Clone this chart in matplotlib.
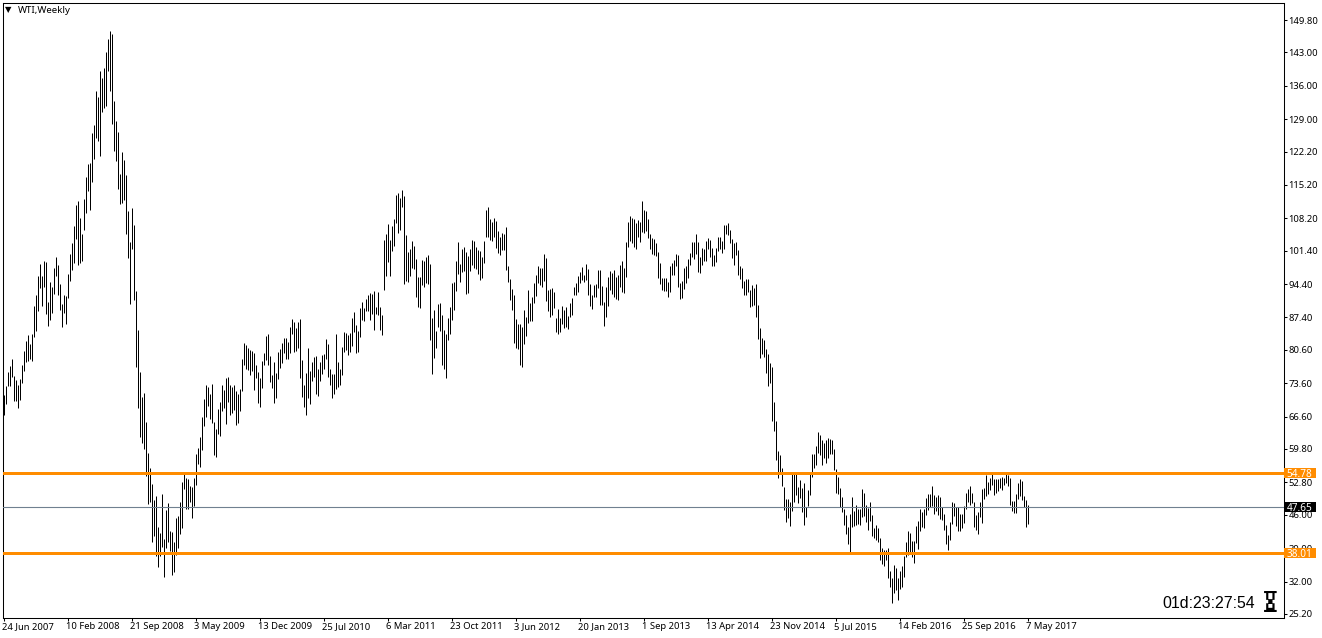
import matplotlib
matplotlib.use("Agg")
import matplotlib.pyplot as plt
from matplotlib import font_manager as fm
from matplotlib.ft2font import FT2Font
from matplotlib.patches import Rectangle, Polygon
from matplotlib.transforms import ScaledTranslation

SERIES = "WTI,Weekly"
highs = [71.1,73.0,76.0,77.2,78.7,75.1,74.3,73.2,74.5,77.4,80.4,82.5,83.7,81.8,83.9,89.8,92.1,96.1,98.6,96.1,99.3,99.1,90.7,94.9,93.8,97.8,100.1,98.4,94.4,90.2,92.1,91.9,
96.5,100.7,103.0,106.6,111.0,111.9,108.3,104.9,112.3,116.9,119.6,119.8,126.1,127.8,135.0,133.7,139.2,137.7,139.8,143.0,145.9,147.4,146.9,132.9,128.7,126.4,117.5,122.2,120.5,117.3,109.8,103.2,
110.4,106.8,93.0,84.8,76.0,70.7,71.5,65.4,59.0,55.8,52.4,49.1,49.9,43.4,42.1,50.3,40.9,47.0,48.4,42.6,42.4,40.3,45.3,45.7,48.6,52.8,54.8,53.7,53.5,52.0,51.8,53.7,
58.7,60.0,62.3,66.5,70.3,73.2,72.8,71.3,73.4,65.4,64.0,68.2,69.7,73.2,72.2,74.7,74.9,73.2,72.8,73.2,72.0,71.3,72.4,78.7,82.0,81.6,81.0,80.6,80.4,80.0,77.4,76.0,74.7,
78.3,80.0,83.5,83.9,79.3,75.3,78.1,75.8,80.2,80.8,82.0,83.1,83.1,82.2,85.4,87.1,86.4,85.2,86.4,87.1,78.5,73.2,75.8,81.0,76.2,78.1,79.1,79.3,76.6,78.1,79.5,79.7,82.9,
81.8,76.6,75.5,75.5,83.9,78.1,76.6,81.2,84.4,84.1,83.7,84.1,87.3,88.5,85.8,84.6,89.4,90.7,89.4,91.3,92.1,92.5,92.3,93.0,89.6,92.8,89.6,87.9,103.7,104.9,107.0,103.7,106.6,108.1,
113.1,113.5,112.5,114.2,112.9,104.7,101.2,101.8,103.5,102.4,99.7,95.9,95.9,99.5,99.3,100.1,100.5,98.6,87.3,89.0,84.6,90.2,90.4,87.9,84.8,83.9,87.3,89.6,94.6,94.9,99.3,103.2,98.6,101.8,102.2,101.2,100.3,
101.8,103.7,103.5,102.2,101.6,101.4,100.1,103.5,110.0,110.6,108.1,107.5,108.3,107.7,105.6,104.3,105.1,104.9,106.4,98.2,95.5,93.4,92.1,87.1,86.0,86.0,85.4,89.0,87.5,93.2,90.4,91.7,94.6,96.3,98.2,97.8,97.8,100.7,
99.9,93.2,93.4,93.6,92.8,87.3,89.2,87.3,89.8,89.0,89.6,87.7,90.4,91.5,93.8,94.6,96.1,97.0,98.0,96.3,98.6,97.6,94.4,92.1,94.2,94.4,97.4,97.4,94.0,90.7,93.8,95.9,97.2,96.7,97.4,95.9,96.3,98.4,99.3,97.8,103.2,107.5,
108.7,108.3,108.1,107.2,107.9,107.5,111.9,110.0,109.8,108.1,105.0,104.1,103.9,103.0,101.2,98.8,95.7,95.7,95.7,94.9,98.2,98.8,99.5,100.7,100.5,94.6,95.1,97.8,98.2,99.7,100.9,103.2,103.2,104.9,103.2,100.1,102.0,101.8,103.5,104.1,
103.7,102.0,100.5,102.0,104.3,104.3,103.5,106.8,106.8,107.2,105.8,103.9,103.0,103.2,101.6,98.2,97.8,95.1,95.5,95.5,93.2,94.2,93.6,94.4,90.0,85.2,83.1,82.7,80.8,79.7,77.8,77.0,69.7,65.7,59.4,58.5,55.8,51.8,49.3,49.3,48.6,54.8,54.8,55.0,51.8,53.3,51.6,52.6,47.6,51.2,55.0,58.7,
58.7,60.4,63.4,62.7,61.7,61.0,61.7,62.1,61.9,61.7,59.8,55.6,53.9,51.6,49.7,47.2,45.9,43.4,46.1,49.7,46.8,48.0,47.2,47.2,51.4,50.6,48.0,47.4,48.6,45.9,43.2,43.8,43.2,41.1,39.0,38.6,38.6,39.0,34.2,32.7,35.4,34.8,32.7,34.2,35.2,37.3,40.3,42.6,42.1,40.5,40.5,43.6,44.7,47.2,46.6,47.2,
49.5,50.3,50.3,52.0,50.1,49.7,50.1,49.7,47.6,46.1,43.8,41.7,44.5,48.6,48.4,47.6,47.6,46.1,46.1,47.8,50.6,51.4,52.0,50.6,48.6,45.9,46.6,48.6,51.4,51.6,54.3,52.8,53.7,54.8,53.5,53.5,53.5,53.7,53.9,53.7,54.5,54.3,53.7,48.9,48.9,50.3,52.6,53.5,53.1,49.9,49.1,48.0]
lows = [66.9,69.2,73.0,73.0,74.9,69.9,69.9,68.4,70.1,73.6,76.2,78.1,78.3,78.7,78.3,83.3,84.6,88.8,93.6,89.8,93.8,88.1,85.6,86.9,88.3,92.3,96.1,92.1,89.0,85.4,88.3,86.0,
91.5,95.1,97.4,98.8,103.9,98.4,98.8,99.3,105.8,109.3,114.0,110.0,115.8,120.7,125.1,124.5,121.3,130.5,131.4,131.8,139.0,135.0,128.0,122.4,120.3,114.4,111.2,111.4,112.1,104.9,99.9,90.2,
101.8,91.1,77.0,68.4,62.3,61.0,59.8,54.1,48.2,48.6,40.3,41.5,37.3,35.0,37.3,39.2,32.9,39.0,40.3,38.4,33.3,34.0,37.5,39.0,41.9,43.2,51.4,47.2,47.2,48.6,45.3,47.8,
52.2,56.6,56.0,59.6,64.6,66.5,68.8,66.1,65.2,58.5,58.1,63.0,62.5,67.8,68.4,65.0,69.7,66.9,67.3,68.0,64.8,65.2,67.8,72.0,77.4,76.6,76.4,75.3,76.2,72.2,74.7,69.4,68.6,
72.6,77.4,78.5,77.4,73.9,72.6,69.4,70.5,74.5,76.8,77.8,80.0,78.7,78.7,80.0,83.9,80.2,80.4,81.0,74.7,70.7,68.6,66.9,70.5,69.2,74.1,74.9,71.3,70.9,74.1,75.5,76.6,78.7,
74.9,73.2,70.5,71.3,72.4,72.8,73.2,75.3,80.2,80.6,79.5,80.2,81.4,84.4,80.0,80.2,83.3,86.9,86.7,88.8,88.8,86.9,88.1,84.8,88.1,87.9,84.8,83.7,93.2,96.1,99.1,96.1,101.4,102.4,
107.2,105.1,105.8,110.6,94.4,95.1,94.9,96.1,97.8,97.6,91.7,89.6,89.4,94.2,93.8,94.6,94.4,82.7,75.5,78.9,81.0,85.4,84.6,77.4,76.6,74.7,82.7,83.9,86.9,89.0,93.0,96.5,94.9,97.0,97.2,92.3,92.5,
97.2,98.4,97.8,97.6,96.5,95.3,95.7,98.8,104.3,104.3,103.7,103.5,104.3,102.0,101.0,100.5,101.6,101.6,97.4,94.9,91.1,89.0,82.0,81.0,80.8,77.4,77.0,81.8,83.5,86.2,86.7,86.7,90.4,91.9,94.6,94.2,93.8,95.1,
90.9,88.8,87.5,87.9,89.4,84.4,83.9,84.4,86.0,85.2,85.4,85.0,87.5,87.9,92.1,92.1,92.8,94.6,95.3,94.9,95.3,92.1,89.8,89.2,91.7,91.7,93.6,90.0,90.0,85.6,87.5,89.8,93.2,92.3,91.7,91.3,91.1,93.8,92.8,92.5,95.9,102.2,
103.5,103.0,102.2,101.8,104.3,103.2,105.4,105.1,105.6,104.1,101.8,100.7,100.5,100.3,95.7,94.4,93.2,93.0,93.0,91.7,92.8,96.3,96.3,98.2,93.8,91.3,91.5,93.4,94.6,95.7,98.4,100.1,99.7,100.7,97.0,96.7,98.4,99.3,99.3,101.8,
100.1,98.2,98.2,99.1,101.4,101.8,101.0,101.8,104.9,104.7,103.0,99.9,98.4,100.5,96.3,95.5,93.6,92.1,92.1,92.8,89.6,89.8,90.0,87.5,82.9,78.9,79.7,79.1,75.8,73.0,73.6,65.7,63.6,57.5,53.7,54.5,52.0,47.0,44.4,45.3,43.6,46.8,48.6,50.1,48.4,49.5,46.6,43.8,45.5,47.8,50.1,53.9,
55.8,56.4,59.0,58.5,56.4,57.9,56.8,57.9,58.7,58.7,55.4,50.6,50.3,47.6,46.6,43.8,41.9,39.8,37.7,43.4,43.6,43.8,44.0,43.8,45.5,45.7,44.4,42.8,44.7,41.5,41.1,40.7,40.3,36.5,35.6,35.2,36.5,32.7,30.8,27.4,29.5,30.2,28.1,30.4,30.8,32.9,37.1,37.5,38.2,37.1,35.8,40.0,38.8,42.6,43.4,43.2,
45.9,47.0,47.6,47.8,46.1,46.8,45.9,45.1,44.9,42.8,39.8,38.6,40.7,44.0,45.7,43.6,42.6,42.6,43.2,44.2,47.2,48.6,48.0,48.4,43.4,42.8,41.9,45.5,44.2,49.3,49.9,50.3,51.2,52.2,50.1,50.6,51.0,51.6,51.2,52.2,52.6,52.0,48.0,46.8,46.4,46.4,49.3,49.9,49.1,47.6,43.4,44.1]

date_labels = ["24 Jun 2007","10 Feb 2008","21 Sep 2008","3 May 2009","13 Dec 2009","25 Jul 2010",
               "6 Mar 2011","23 Oct 2011","3 Jun 2012","20 Jan 2013","1 Sep 2013","13 Apr 2014",
               "23 Nov 2014","5 Jul 2015","14 Feb 2016","25 Sep 2016","7 May 2017"]
date_positions = [0,32,64,96,128,160,192,224,256,288,320,352,384,416,448,480,512]
price_ticks = [149.8,143.0,136.0,129.0,122.2,115.2,108.2,101.4,94.4,87.4,80.6,73.6,66.6,59.8,52.8,46.0,39.0,32.0,25.2]
support = 38.01
resistance = 54.78
last_price = 47.65
countdown = "01d:23:27:54"
HOURGLASS = "\u231B"

W, H = 1322, 638
L, R, T, B = 2.5, 1283.5, 2.5, 617.5
fig = plt.figure(figsize=(W/100, H/100), dpi=100, facecolor="white")
ax = fig.add_axes([L/W, 1-B/H, (R-L)/W, (B-T)/H])
ax.set_xlim(-0.5, 640.0)
ax.set_ylim(154.0-0.2098*B, 154.0-0.2098*T)

n = min(len(highs), len(lows))
bars = ax.vlines(range(n), lows[:n], highs[:n], colors="black", linewidth=0.72, zorder=2)
bars.set_capstyle("butt")
bars.set_snap(True)

ORANGE = "#FF8C00"
ax.axhline(resistance, color=ORANGE, linewidth=2.16, zorder=3)
ax.axhline(support, color=ORANGE, linewidth=2.16, zorder=3)
ax.axhline(last_price, color="#708090", linewidth=0.8, zorder=3)

for s in ax.spines.values():
    s.set_linewidth(0.75)
    s.set_color("black")

FONT = "Noto Sans"
TS = 6.8
ax.set_xticks(date_positions)
ax.set_xticklabels(date_labels, ha="left", fontsize=TS, family=FONT)
ax.set_yticks(price_ticks)
ax.set_yticklabels([f"{v:.2f}" for v in price_ticks], fontsize=TS, family=FONT)
ax.yaxis.tick_right()
ax.tick_params(axis="x", length=2.5, width=0.75, pad=0.8)
ax.tick_params(axis="y", length=2.5, width=0.75, pad=1.2)
shift = ScaledTranslation(-1.2/72, 0, fig.dpi_scale_trans)
for lab in ax.get_xticklabels():
    lab.set_transform(lab.get_transform() + shift)

trans = ax.get_yaxis_transform()
for val, col in ((resistance, ORANGE), (support, ORANGE), (last_price, "black")):
    ax.add_patch(Rectangle((1.0005, val-1.08), 0.0245, 2.16, transform=trans, clip_on=False,
                           facecolor=col, edgecolor="none", zorder=5))
    ax.text(1.0125, val, f"{val:.2f}", transform=trans, ha="center", va="center_baseline",
            color="white", fontsize=TS+0.4, family=FONT, clip_on=False, zorder=6)

ax.text(0.0121, 0.9878, SERIES, transform=ax.transAxes, ha="left", va="center",
        fontsize=TS+0.2, family=FONT, color="black")
ax.text(0.0045, 0.9878, "\u25BC", transform=ax.transAxes, ha="center", va="center",
        fontsize=6, family="DejaVu Sans", color="black")
ax.text(0.9778, 0.0228, countdown, transform=ax.transAxes, ha="right", va="center",
        fontsize=11.4, family="Liberation Sans", color="black")


def font_with(ch):
    for path in fm.findSystemFonts():
        try:
            if FT2Font(path).get_char_index(ord(ch)):
                return path
        except Exception:
            pass
    return None


glyph_font = font_with(HOURGLASS)
if glyph_font:
    ax.text(0.9895, 0.0252, HOURGLASS, transform=ax.transAxes, ha="center", va="center",
            fontsize=24, font=fm.FontProperties(fname=glyph_font), color="black")
else:
    # no installed family has this sign: draw it as a small hourglass shape
    hx = lambda px: (px - L) / (R - L)
    hy = lambda py: (B - py) / (B - T)
    at = ax.transAxes
    ax.add_patch(Polygon([(hx(1265), hy(595)), (hx(1275), hy(595)), (hx(1270.5), hy(602)),
                          (hx(1275), hy(609)), (hx(1265), hy(609)), (hx(1269.5), hy(602))],
                         closed=True, transform=at, facecolor="white", edgecolor="black", linewidth=0.8))
    ax.add_patch(Polygon([(hx(1266), hy(609)), (hx(1274), hy(609)), (hx(1270), hy(605))],
                         closed=True, transform=at, facecolor="#222222", edgecolor="none"))
    for py in (593.5, 610.5):
        ax.add_patch(Rectangle((hx(1264), hy(py+0.8)), hx(1276)-hx(1264), (1.6)/(B-T),
                               transform=at, facecolor="#333333", edgecolor="none"))

fig.savefig("out.png", dpi=100, facecolor="white")
